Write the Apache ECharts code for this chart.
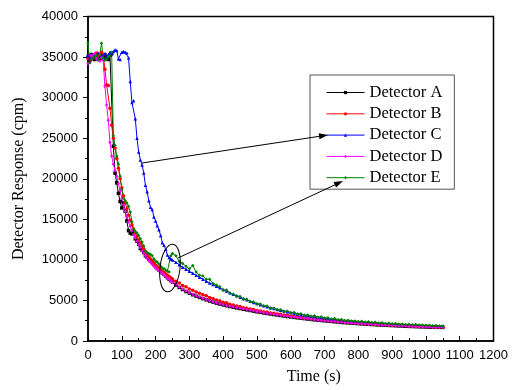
<!DOCTYPE html>
<html><head><meta charset="utf-8">
<script src="https://cdn.jsdelivr.net/npm/echarts@6/dist/echarts.min.js"></script>
<style>html,body{margin:0;padding:0;background:#fff}#c{width:512px;height:390px}</style>
</head><body><div id="c"></div>
<script>
const times = [
0,5,10,15,20,25,30,35,40,45,
50,55,60,65,70,75,80,85,90,95,
100,105,110,115,120,125,130,135,140,145,
150,155,160,165,170,175,180,185,190,195,
200,205,210,215,220,225,230,235,240,245,
250,
260,270,280,290,300,310,320,330,340,350,
360,370,380,390,400,410,420,430,440,450,
460,470,480,490,500,510,520,530,540,550,
560,570,580,590,600,610,620,630,640,650,
660,670,680,690,700,710,720,730,740,750,
760,770,780,790,800,810,820,830,840,850,
860,870,880,890,900,910,920,930,940,950,
960,970,980,990,1000,1010,1020,1030,1040,1050];

const detA = [
35000,34600,35300,35000,34700,35400,35100,34800,35200,34900,
35300,35000,34700,35200,35400,24000,20700,19500,18200,17200,
16400,17000,16000,14800,13600,13300,13200,13500,12600,12300,
11900,11400,11200,10900,10500,10300,10100,9900,9700,9450,
9200,8950,8750,8580,8400,8200,8000,7800,7620,7450,
7280,
6900,6600,6350,6100,5900,5700,5530,5370,5220,5070,
4930,4800,4670,4560,4450,4350,4250,4160,4080,4000,
3920,3840,3760,3680,3600,3530,3460,3390,3330,3260,
3200,3140,3080,3020,2970,2910,2860,2810,2760,2710,
2660,2610,2570,2530,2490,2450,2410,2370,2330,2290,
2260,2230,2200,2170,2140,2110,2080,2060,2030,2010,
1980,1960,1940,1920,1900,1880,1860,1840,1820,1800,
1790,1770,1750,1740,1720,1710,1700,1690,1680,1670];

const detB = [
34800,35200,34700,35300,35000,35500,34900,35200,35600,35300,
33500,31600,31500,28700,26600,25000,23800,22500,21300,20000,
18900,17900,17100,16300,15500,14900,14300,13800,13300,12900,
12500,12100,11700,11300,11000,10700,10400,10100,9850,9600,
9350,9150,8950,8780,8600,8430,8260,8100,7950,7800,
7650,
7350,7150,6850,6700,6400,6250,6050,5900,5700,5580,
5350,5250,5050,4950,4780,4700,4530,4450,4310,4250,
4110,4050,3930,3880,3760,3710,3600,3560,3460,3420,
3320,3290,3200,3170,3080,3050,2950,2930,2840,2820,
2740,2720,2640,2630,2560,2550,2480,2470,2400,2390,
2330,2320,2260,2250,2200,2190,2140,2130,2090,2080,
2040,2030,1990,1980,1950,1940,1910,1900,1870,1860,
1830,1820,1790,1780,1760,1750,1730,1720,1710,1700];

const detC = [
35200,34900,35400,35000,35300,34800,35500,35100,35300,35000,
35400,35100,35300,35600,35500,35700,35900,35800,34800,34700,
35600,35700,35600,35500,34900,32000,29400,29600,27400,25000,
23300,22300,21700,20700,19200,18400,17300,16500,16200,15300,
14800,14200,13700,13000,12100,11800,11300,10600,10300,10100,
10000,
9700,9400,9100,8850,8600,8350,8100,7850,7600,7380,
7150,6950,6750,6550,6350,6150,5950,5750,5580,5400,
5230,5070,4910,4760,4620,4480,4350,4230,4110,4000,
3890,3790,3690,3600,3510,3420,3340,3260,3180,3110,
3040,2970,2910,2850,2790,2740,2690,2640,2590,2540,
2500,2460,2420,2380,2350,2320,2290,2260,2230,2200,
2170,2140,2120,2100,2080,2060,2040,2020,2000,1980,
1960,1940,1920,1900,1890,1870,1860,1840,1830,1820];

const detD = [
34200,34300,35200,35000,35400,34800,34600,34500,34900,34600,
31400,29100,27200,24500,22800,21800,21000,20300,19400,18500,
17600,16800,16000,15300,14700,14100,13600,13100,12700,12300,
11900,11500,11100,10800,10500,10200,9900,9700,9450,9200,
9000,8800,8650,8500,8350,8150,7950,7750,7600,7400,
7250,
6950,6650,6400,6150,5950,5750,5580,5420,5270,5120,
4980,4850,4720,4600,4490,4390,4290,4200,4120,4040,
3960,3880,3800,3720,3640,3570,3500,3430,3360,3300,
3240,3180,3120,3060,3000,2950,2890,2840,2790,2740,
2690,2640,2590,2550,2510,2470,2430,2390,2350,2310,
2280,2250,2220,2190,2160,2130,2100,2080,2050,2030,
2000,1980,1960,1940,1920,1900,1880,1860,1840,1820,
1800,1780,1770,1750,1740,1720,1710,1700,1690,1680];

const detE = [
36700,34300,34700,34900,35000,35200,34700,35300,36700,34900,
34600,34700,35000,35200,35600,25300,24100,22800,21800,20300,
18700,17600,17300,17000,16600,15900,14700,13800,13500,13300,
13000,12600,12200,11700,11100,10900,10800,10700,10500,10100,
9850,9700,9500,9200,9000,8900,8750,8600,8500,10500,
10800,
10500,9800,9550,9200,8900,9300,8500,8100,8000,7600,
7600,7100,6900,6700,6250,6300,5900,5750,5550,5500,
5150,5150,4850,4800,4550,4550,4300,4300,4050,4050,
3850,3850,3650,3680,3480,3500,3330,3350,3180,3220,
3060,3100,2940,2980,2830,2860,2720,2760,2620,2660,
2530,2560,2450,2480,2400,2430,2330,2360,2280,2310,
2220,2250,2170,2200,2120,2150,2080,2100,2040,2060,
2000,2020,1960,1980,1930,1950,1890,1910,1860,1840];

const seriesNames = ['Detector A','Detector B','Detector C','Detector D','Detector E'];
const seriesValues = [detA, detB, detC, detD, detE];
const seriesColors = ['#000000','#ff0000','#0000ff','#ff00ff','#008000'];
const seriesSymbols = ['rect','circle','triangle','diamond','diamond'];

const chart = echarts.init(document.getElementById('c'), null, {renderer:'canvas'});
const serif = '"Liberation Serif","Times New Roman",serif';
const sans = '"Liberation Sans",Arial,sans-serif';

chart.setOption({
  animation:false,
  backgroundColor:'#fff',
  grid:{left:88, right:18.5, top:16.5, bottom:44.5, show:true, borderColor:'#000', borderWidth:1.5, backgroundColor:'transparent'},
  legend:{
    orient:'vertical', left:310, top:75,
    padding:[9,12,3,16], itemGap:4.3, itemWidth:38, itemHeight:4,
    borderColor:'#555', borderWidth:1, backgroundColor:'#fff',
    lineStyle:{width:1},
    textStyle:{fontFamily:serif, fontSize:16.5, color:'#000', lineHeight:16},
    data:seriesNames
  },
  xAxis:{
    type:'value', min:0, max:1200, interval:100,
    name:'Time (s)', nameLocation:'middle', nameGap:28,
    nameTextStyle:{fontFamily:serif, fontSize:16, color:'#000', padding:[0,0,0,46]},
    axisLine:{show:true, lineStyle:{color:'#000', width:1.5}},
    axisTick:{show:true, inside:true, length:5, lineStyle:{color:'#000'}},
    minorTick:{show:true, splitNumber:2, length:3, lineStyle:{color:'#000'}},
    axisLabel:{fontFamily:sans, fontSize:13, color:'#000', margin:8, formatter:(v)=>String(v)},
    splitLine:{show:false}
  },
  yAxis:{
    type:'value', min:0, max:40000, interval:5000,
    name:'Detector Response (cpm)', nameLocation:'middle', nameGap:61,
    nameTextStyle:{fontFamily:serif, fontSize:16, color:'#000'},
    axisLine:{show:true, lineStyle:{color:'#000', width:1.5}},
    axisTick:{show:true, inside:false, length:5, lineStyle:{color:'#000'}},
    minorTick:{show:true, splitNumber:2, length:3, lineStyle:{color:'#000'}},
    axisLabel:{fontFamily:sans, fontSize:13, color:'#000', margin:10, formatter:(v)=>String(v)},
    splitLine:{show:false}
  },
  series: seriesNames.map((n,k)=>({
    name:n, type:'line',
    data: times.map((t,i)=>[t, seriesValues[k][i]]),
    symbol: seriesSymbols[k], symbolSize:3.5, showSymbol:true, showAllSymbol:true,
    lineStyle:{width:1, color:seriesColors[k]},
    itemStyle:{color:seriesColors[k]},
    emphasis:{disabled:true}
  })),
  graphic:[
    {type:'ellipse', shape:{cx:170, cy:268, rx:10, ry:24}, rotation:-0.12, originX:170, originY:268, z:100,
      style:{fill:'none', stroke:'#000', lineWidth:1}},
    {type:'line', shape:{x1:142, y1:163, x2:319.5, y2:136.3}, z:100, style:{stroke:'#000', lineWidth:1}},
    {type:'polygon', shape:{points:[[328,135],[319.5,139.3],[318.7,133.3]]}, z:100, style:{fill:'#000'}},
    {type:'line', shape:{x1:178, y1:258, x2:335, y2:184.8}, z:100, style:{stroke:'#000', lineWidth:1}},
    {type:'polygon', shape:{points:[[343,181],[336.1,187.5],[333.5,182.1]]}, z:100, style:{fill:'#000'}}
  ]
});
</script></body></html>
